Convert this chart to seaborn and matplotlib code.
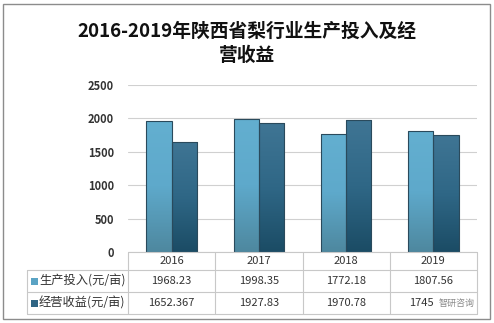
import numpy as np
import pandas as pd
import matplotlib
matplotlib.use("Agg")
import matplotlib.pyplot as plt
import seaborn as sns
from matplotlib.lines import Line2D
from matplotlib.patches import Rectangle
from matplotlib.colors import LinearSegmentedColormap

years = ["2016", "2017", "2018", "2019"]
series_names = ["生产投入(元/亩)", "经营收益(元/亩)"]
input_vals = [1968.23, 1998.35, 1772.18, 1807.56]
income_vals = [1652.367, 1927.83, 1970.78, 1745.0]
input_labels = ["1968.23", "1998.35", "1772.18", "1807.56"]
income_labels = ["1652.367", "1927.83", "1970.78", "1745"]
yticks = [0, 500, 1000, 1500, 2000, 2500]
title = "2016-2019年陕西省梨行业生产投入及经\n营收益"
watermark = "智研咨询"

sns.set_theme(style="white")
plt.rcParams["font.family"] = ["Noto Sans CJK SC", "DejaVu Sans"]

W, H = 494, 323
fig = plt.figure(figsize=(W / 100, H / 100), dpi=100)
fig.patch.set_facecolor("white")

def fx(px):
    return px / W

def fy(py):
    return 1 - py / H

ax_l, ax_r, ax_t, ax_b = 128, 477, 85, 252
ax = fig.add_axes([fx(ax_l), fy(ax_b), fx(ax_r - ax_l), (ax_b - ax_t) / H])

df = pd.DataFrame({
    "year": years * 2,
    "series": [series_names[0]] * 4 + [series_names[1]] * 4,
    "value": input_vals + income_vals,
})
c1, c2 = "#5aa3c4", "#2f6584"
sns.barplot(data=df, x="year", y="value", hue="series", palette=[c1, c2],
            width=0.58, ax=ax, legend=False, edgecolor="#2a4a5c", linewidth=0.8,
            saturation=1)

ax.set_ylim(0, 2500)
ax.set_xlim(-0.5, 3.5)
ax.set_yticks(yticks)
ax.set_yticklabels([str(v) for v in yticks], fontsize=8, color="#333333",
                   fontweight="bold")
ax.tick_params(axis="y", length=0, pad=10)
ax.set_xticks([])
ax.set_xlabel("")
ax.set_ylabel("")
ax.yaxis.grid(True, color="#d0d0d0", linewidth=0.8)
ax.set_axisbelow(True)
for s in ["top", "right", "left", "bottom"]:
    ax.spines[s].set_visible(False)

# gradient fill on bars
grads = [
    LinearSegmentedColormap.from_list("g1", ["#4e889f", "#5ea9cb", "#63afd0"]),
    LinearSegmentedColormap.from_list("g2", ["#1b4c65", "#2f6786", "#3f7594"]),
]
patches = list(ax.patches)
for i, p in enumerate(patches):
    cmap = grads[0] if i < 4 else grads[1]
    x0, y0 = p.get_x(), p.get_y()
    w, h = p.get_width(), p.get_height()
    if h <= 0:
        continue
    grad = np.linspace(0, 1, 100).reshape(-1, 1)
    im = ax.imshow(grad, cmap=cmap, aspect="auto", origin="lower",
                   extent=[x0, x0 + w, y0, y0 + h], zorder=p.get_zorder() + 0.1)
    im.set_clip_path(p)
    p.set_facecolor("none")
    p.set_zorder(p.get_zorder() + 0.2)
ax.set_xlim(-0.5, 3.5)
ax.set_ylim(0, 2500)

# table
line_c = "#c8c8c8"
def hline(y, x0, x1):
    fig.add_artist(Line2D([fx(x0), fx(x1)], [fy(y), fy(y)], color=line_c, lw=0.8))

def vline(x, y0, y1):
    fig.add_artist(Line2D([fx(x), fx(x)], [fy(y0), fy(y1)], color=line_c, lw=0.8))

tab_l = 27
r0, r1, r2, r3 = 252, 270, 292, 314
hline(r0, ax_l, ax_r)
hline(r1, tab_l, ax_r)
hline(r2, tab_l, ax_r)
hline(r3, tab_l, ax_r)
col_w = (ax_r - ax_l) / 4
for k in range(5):
    vline(ax_l + k * col_w, r0, r3)
vline(tab_l, r1, r3)

for k, yr in enumerate(years):
    cx = ax_l + (k + 0.5) * col_w
    if k == 3:
        cx_val2 = cx - 12
    else:
        cx_val2 = cx
    fig.text(fx(cx), fy((r0 + r1) / 2), yr, ha="center", va="center",
             fontsize=8, color="#333333")
    fig.text(fx(cx), fy((r1 + r2) / 2), input_labels[k], ha="center",
             va="center", fontsize=8, color="#333333")
    fig.text(fx(cx_val2), fy((r2 + r3) / 2), income_labels[k], ha="center",
             va="center", fontsize=8, color="#333333")

for j, (name, col) in enumerate(zip(series_names, [c1, c2])):
    yc = (r1 + r2) / 2 if j == 0 else (r2 + r3) / 2
    fig.add_artist(Rectangle((fx(31), fy(yc + 3.5)), fx(7), 7 / H,
                             facecolor=col, edgecolor="none"))
    fig.text(fx(39), fy(yc), name, ha="left", va="center",
             fontsize=8.8, color="#333333")

# watermark
fig.text(fx(475), fy((r2 + r3) / 2), watermark, ha="right", va="center",
         fontsize=6.5, color="#8a8a8a")

# title
fig.text(0.5, fy(43), title, ha="center", va="center", fontsize=13.5,
         fontweight="bold", color="#111111", linespacing=1.35)

# frame
fig.add_artist(Rectangle((fx(3), fy(319)), fx(487), 315 / H, fill=False,
                         edgecolor="#8c8c8c", linewidth=1.0))

fig.savefig("out.png", dpi=100, facecolor="white")
